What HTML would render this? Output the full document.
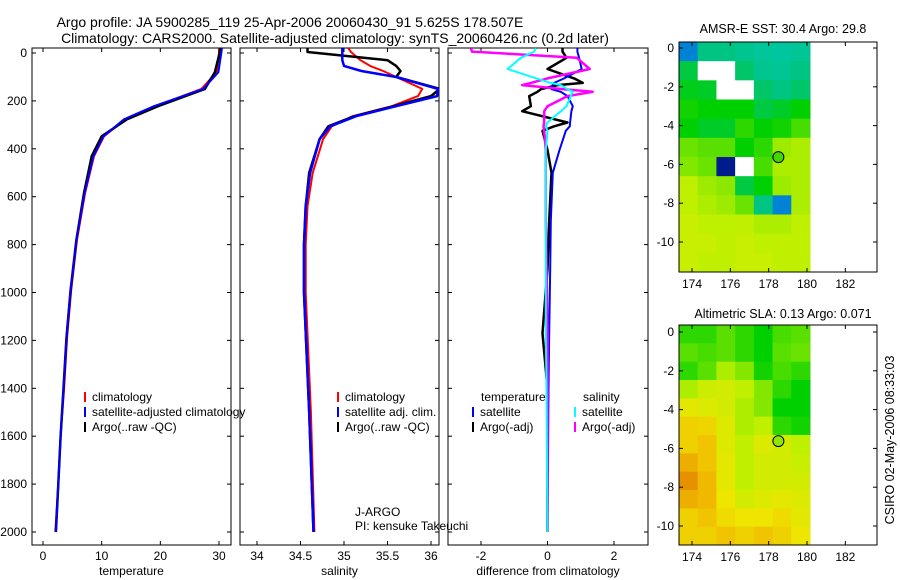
<!DOCTYPE html>
<html><head><meta charset="utf-8"><style>
html,body{margin:0;padding:0;background:#fff;}
svg{display:block;font-family:"Liberation Sans",sans-serif;}
text{fill:#000;}
</style></head><body>
<svg id="c" width="900" height="580" viewBox="0 0 900 580">
<text x="290" y="27" font-size="14" text-anchor="middle">Argo profile: JA 5900285_119 25-Apr-2006 20060430_91 5.625S 178.507E</text>
<text x="335" y="43" font-size="14" text-anchor="middle">Climatology: CARS2000. Satellite-adjusted climatology: synTS_20060426.nc (0.2d later)</text>
<text x="783" y="33" font-size="12.5" text-anchor="middle">AMSR-E SST: 30.4  Argo: 29.8</text>
<text x="783" y="318" font-size="12.5" text-anchor="middle">Altimetric SLA: 0.13  Argo: 0.071</text>
<text transform="translate(894,440) rotate(-90)" font-size="12.5" text-anchor="middle">CSIRO 02-May-2006 08:33:03</text>
</svg>
<script>
// depth axis shared
const depthTicks=[0,200,400,600,800,1000,1200,1400,1600,1800,2000];
// temperature panel
const tempTicks=[0,10,20,30];
const tDepth=[-20,0,80,150,222,277,348,431,583,780,990,1187,1400,1600,1800,2000];
const tSat=[30.5,30.4,29.9,27.3,18.9,13.8,10.3,8.6,7.1,5.7,4.7,4.0,3.5,3.0,2.6,2.2];
const tClim=[30.0,30.0,29.6,27.0,19.2,14.0,10.4,8.7,7.2,5.8,4.8,4.1,3.6,3.0,2.6,2.1];
const tArgo=[30.2,30.1,29.3,27.6,19.6,14.3,10.0,8.3,7.0,5.7,4.7,4.0,3.5,3.0,2.6,2.2];
// salinity panel
const salTicks=[34,34.5,35,35.5,36];
const sDepth=[-20,-4,30,54,75,100,150,180,222,264,306,360,500,640,800,1000,1500,2000];
const sSat=[34.98,34.98,34.98,35.0,35.2,35.6,36.08,36.07,35.6,35.14,34.84,34.72,34.61,34.56,34.54,34.54,34.6,34.65];
const sClim=[35.05,35.08,35.19,35.3,35.45,35.6,35.9,35.85,35.55,35.1,34.86,34.76,34.64,34.58,34.56,34.56,34.62,34.66];
const sArgo=[34.58,34.58,35.5,35.6,35.65,35.6,36.1,36.0,35.57,35.12,34.82,34.72,34.6,34.56,34.54,34.54,34.6,34.65];
// difference panel
const dTicks=[-2,0,2];
const dDepth=[-20,-6,20,67,106,125,134,151,162,180,222,243,290,306,325,405,500,700,900,1170,1400,2000];
const dTsat=[0.9,0.9,0.95,1.03,0.5,0.2,0.15,0.12,0.4,0.6,0.76,0.72,0.68,0.67,0.55,0.36,0.16,0.1,0.08,0.05,0.03,0.0];
const dTargo=[0.45,0.45,0.57,0.0,0.8,1.06,0.3,-0.2,-0.3,-0.55,-0.5,-0.76,0.6,0.2,-0.15,0.0,0.12,0.05,0.0,-0.15,0.0,0.0];
const dSsat=[-0.35,-0.4,-0.8,-1.2,-0.33,0.1,0.4,0.6,0.76,0.7,0.57,0.4,0.0,-0.05,0.0,-0.05,-0.05,-0.05,-0.05,-0.05,-0.03,0.0];
const dSargo=[-2.3,-2.27,0.88,1.27,0.0,-0.5,-0.76,0.5,1.36,0.6,0.0,-0.1,-0.1,-0.12,-0.1,-0.05,-0.05,-0.05,-0.03,0.0,0.0,0.0];
// maps
const lonTicks=[174,176,178,180,182];
const latTicks=[0,-2,-4,-6,-8,-10];
const sstGrid=[
[0.2,0.4,0.4,0.38,0.36,0.35,0.37],
[0.45,null,null,0.42,0.38,0.37,0.4],
[0.48,0.47,null,null,0.42,0.4,0.42],
[0.52,0.5,0.5,0.5,0.45,0.47,0.5],
[0.5,0.47,0.47,0.55,0.5,0.52,0.58],
[0.62,0.6,0.6,0.5,0.55,0.68,0.7],
[0.65,0.62,0.02,null,0.58,0.7,0.7],
[0.72,0.68,0.66,0.45,0.5,0.68,0.7],
[0.72,0.7,0.68,0.62,0.4,0.2,0.7],
[0.74,0.72,0.72,0.72,0.7,0.7,0.72],
[0.74,0.74,0.72,0.74,0.72,0.72,0.72],
[0.74,0.72,0.72,0.74,0.74,0.72,0.72]];
const slaGrid=[
[0.55,0.55,0.6,0.55,0.5,0.58,0.6],
[0.6,0.58,0.6,0.55,0.5,0.6,0.62],
[0.55,0.6,0.7,0.65,0.52,0.58,0.55],
[0.7,0.75,0.76,0.72,0.65,0.55,0.5],
[0.8,0.78,0.76,0.7,0.65,0.5,0.5],
[0.86,0.85,0.78,0.7,0.72,0.55,0.52],
[0.86,0.88,0.78,0.72,0.78,0.76,0.72],
[0.92,0.88,0.8,0.72,0.76,0.76,0.74],
[0.97,0.9,0.8,0.72,0.76,0.76,0.76],
[0.92,0.9,0.82,0.76,0.78,0.8,0.78],
[0.86,0.88,0.84,0.82,0.82,0.84,0.8],
[0.86,0.86,0.88,0.86,0.88,0.86,0.82]];
const floatLon=[178.507];
const floatLat=[-5.625];

const NS='http://www.w3.org/2000/svg';
const svg=document.getElementById('c');
function mk(tag,attrs,parent){const e=document.createElementNS(NS,tag);for(const k in attrs)e.setAttribute(k,attrs[k]);(parent||svg).appendChild(e);return e;}
const PT=48,PB=545;
const yD=d=>53+d*(532-53)/2000;
function lin(d0,p0,d1,p1){return v=>p0+(v-d0)*(p1-p0)/(d1-d0);}

function panel(name,x0,x1,xs,ticks,fmt,xlabel,showY){
  const g=mk('g',{});
  
  
  const r=mk('rect',{x:x0,y:PT,width:x1-x0,height:PB-PT,fill:'none',stroke:'#000','stroke-width':1},g);
  
  
  ticks.forEach(t=>{const x=xs(t);
    mk('line',{x1:x,y1:PB,x2:x,y2:PB-4,stroke:'#000'},g);
    mk('line',{x1:x,y1:PT,x2:x,y2:PT+4,stroke:'#000'},g);
    const tx=mk('text',{x:x,y:560,'font-size':12,'text-anchor':'middle'},g);tx.textContent=fmt(t);
    
    
  });
  depthTicks.forEach(d=>{const y=yD(d);
    mk('line',{x1:x0,y1:y,x2:x0+4,y2:y,stroke:'#000'},g);
    mk('line',{x1:x1,y1:y,x2:x1-4,y2:y,stroke:'#000'},g);
    if(showY){const tx=mk('text',{x:x0-5,y:y+4,'font-size':12,'text-anchor':'end'},g);tx.textContent=d;
      
      }
  });
  const xl=mk('text',{x:(x0+x1)/2,y:575,'font-size':12,'text-anchor':'middle'},g);xl.textContent=xlabel;
  
  
  const cp=mk('clipPath',{id:'cp-'+name},g);mk('rect',{x:x0,y:PT,width:x1-x0,height:PB-PT},cp);
  return g;
}
function series(g,name,xs,depths,vals,color,w){
  const pts=depths.map((d,i)=>xs(vals[i]).toFixed(1)+','+yD(d).toFixed(1)).join(' ');
  const p=mk('polyline',{points:pts,fill:'none',stroke:color,'stroke-width':w,'clip-path':'url(#cp-'+name+')','stroke-linejoin':'round'},g);
  
  
}
function legend(g,x,y,color,label,nm){
  mk('line',{x1:x,y1:y-9,x2:x,y2:y+1,stroke:color,'stroke-width':2},g);
  const t=mk('text',{x:x+7,y:y,'font-size':12},g);t.textContent=label;
  
  
}

// temperature
const xT=lin(0,43,30,219);
const gT=panel('temperature',32,231,xT,tempTicks,t=>t,'temperature',true);
series(gT,'temperature',xT,tDepth,tClim,'#f00',2);
series(gT,'temperature',xT,tDepth,tArgo,'#000',2.5);
series(gT,'temperature',xT,tDepth,tSat,'#00f',2);
legend(gT,85,401,'#f00','climatology','temp-legend-climatology');
legend(gT,85,416,'#00f','satellite-adjusted climatology','temp-legend-satellite');
legend(gT,85,431,'#000','Argo(..raw -QC)','temp-legend-argo');

// salinity
const xS=lin(34,257,36,431);
const gS=panel('salinity',240,439,xS,salTicks,t=>t,'salinity',false);
series(gS,'salinity',xS,sDepth,sClim,'#f00',2);
series(gS,'salinity',xS,sDepth,sArgo,'#000',2.5);
series(gS,'salinity',xS,sDepth,sSat,'#00f',2.5);
legend(gS,338,401,'#f00','climatology','sal-legend-climatology');
legend(gS,338,416,'#00f','satellite adj. clim.','sal-legend-satellite');
legend(gS,338,431,'#000','Argo(..raw -QC)','sal-legend-argo');
const j1=mk('text',{x:355,y:516,'font-size':12},gS);j1.textContent='J-ARGO';


const j2=mk('text',{x:355,y:530,'font-size':12},gS);j2.textContent='PI: kensuke Takeuchi';



// difference
const xDf=lin(-2,481,2,614);
const gD=panel('difference',448,648,xDf,dTicks,t=>t,'difference from climatology',false);
series(gD,'difference',xDf,dDepth,dTargo,'#000',2.5);
series(gD,'difference',xDf,dDepth,dTsat,'#00f',2);
series(gD,'difference',xDf,dDepth,dSargo,'#f0f',2.5);
series(gD,'difference',xDf,dDepth,dSsat,'#0ff',2);
const h1=mk('text',{x:481,y:401,'font-size':12},gD);h1.textContent='temperature';


const h2=mk('text',{x:583,y:401,'font-size':12},gD);h2.textContent='salinity';


legend(gD,473,416,'#00f','satellite','diff-legend-temp-satellite');
legend(gD,473,431,'#000','Argo(-adj)','diff-legend-temp-argo');
legend(gD,575,416,'#0ff','satellite','diff-legend-sal-satellite');
legend(gD,575,431,'#f0f','Argo(-adj)','diff-legend-sal-argo');

// colormap
const stops=[[0,[0,16,128]],[0.15,[0,96,224]],[0.3,[0,200,190]],[0.4,[0,196,130]],[0.5,[0,208,0]],[0.6,[90,224,0]],[0.72,[190,240,0]],[0.82,[238,230,0]],[0.9,[240,185,0]],[1,[224,128,0]]];
function cmap(v){for(let i=1;i<stops.length;i++){if(v<=stops[i][0]){const a=stops[i-1],b=stops[i];const f=(v-a[0])/(b[0]-a[0]);const c=a[1].map((x,k)=>Math.round(x+(b[1][k]-x)*f));return 'rgb('+c.join(',')+')';}}return 'rgb(224,128,0)';}

function map(name,top,bottom,lat0y,lat10y,grid){
  const L=679,R=877,B=bottom;
  const xL=lin(174,692,180,807), yL=lin(0,lat0y,-10,lat10y);
  const g=mk('g',{});
  
  
  const cols=grid[0].length,rows=grid.length;
  const cw=(810-L)/cols,ch=(B-top)/rows;
  grid.forEach((row,r)=>row.forEach((v,c)=>{
    const rc=mk('rect',{x:L+c*cw,y:top+r*ch,width:cw+0.5,height:ch+0.5,fill:v===null?'#fff':cmap(v)},g);
    
    
  }));
  const fr=mk('rect',{x:L,y:top,width:R-L,height:B-top,fill:'none',stroke:'#000'},g);
  
  
  lonTicks.forEach(t=>{const x=xL(t);
    mk('line',{x1:x,y1:B,x2:x,y2:B-4,stroke:'#000'},g);
    mk('line',{x1:x,y1:top,x2:x,y2:top+4,stroke:'#000'},g);
    const tx=mk('text',{x:x,y:B+16,'font-size':12,'text-anchor':'middle'},g);tx.textContent=t;
    
    });
  latTicks.forEach(t=>{const y=yL(t);
    mk('line',{x1:L,y1:y,x2:L+4,y2:y,stroke:'#000'},g);
    mk('line',{x1:R,y1:y,x2:R-4,y2:y,stroke:'#000'},g);
    const tx=mk('text',{x:L-5,y:y+4,'font-size':12,'text-anchor':'end'},g);tx.textContent=t;
    
    });
  floatLon.forEach((lo,i)=>{const m=mk('circle',{cx:xL(lo),cy:yL(floatLat[i]),r:5.5,fill:name==='sst'?'#40d800':'#90e800',stroke:'#000'},g);
    
    });
}
map('sst',42,272,48,242,sstGrid);
map('sla',325,545,332,526,slaGrid);
</script>
</body></html>
